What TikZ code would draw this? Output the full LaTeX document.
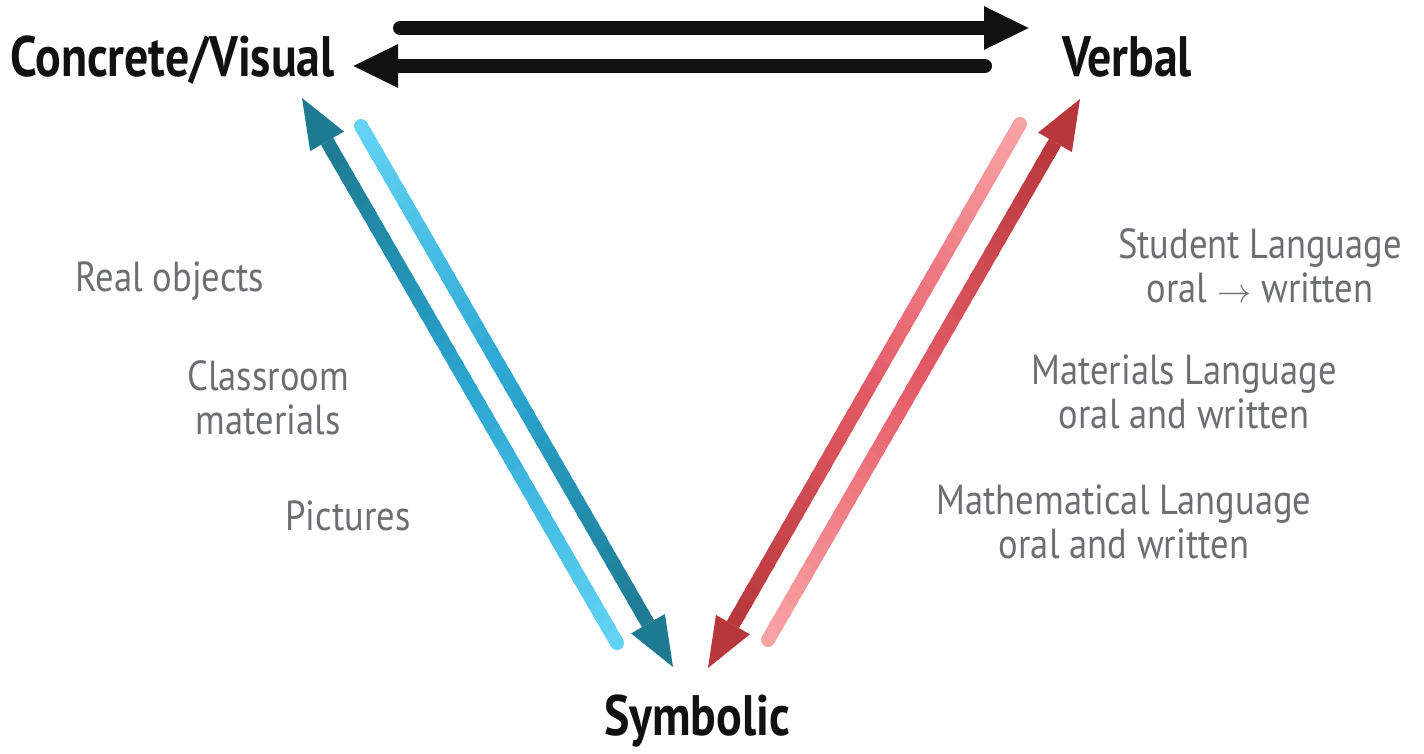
\documentclass[tikz,border=0pt]{standalone}
\usepackage{fontspec}
\setmainfont{PT Sans}
\newfontfamily\headfont{PT Sans}[FakeStretch=0.84]
\newfontfamily\lblfont{PT Sans}[FakeStretch=0.87]
\usetikzlibrary{calc,arrows.meta}
\definecolor{blueL}{HTML}{62D3F5}
\definecolor{blueM}{HTML}{2BA6D2}
\definecolor{blueD}{HTML}{1D7A90}
\definecolor{redL}{HTML}{F9A3A7}
\definecolor{redM}{HTML}{E55D68}
\definecolor{redD}{HTML}{B7373A}
\definecolor{txtgray}{HTML}{6D6E71}
\definecolor{ink}{HTML}{111111}
\tikzset{
  headlbl/.style={font=\headfont\bfseries\fontsize{57}{60}\selectfont, text=ink, inner sep=0pt},
  lbl/.style={font=\lblfont\fontsize{42}{44}\selectfont, text=txtgray, inner sep=0pt, align=center},
  blackarrow/.style={draw=ink, line width=14pt, line cap=round, -{Triangle[length=46pt,width=40pt]}},
}
\newcommand\thinarrow{\smash{\resizebox{34pt}{!}{$\rightarrow$}}}
% #1 tail, #2 head, #3 light, #4 mid, #5 dark
\newcommand\gradarrow[5]{%
  \coordinate (hb) at ($(#2)!50pt!(#1)$);
  \fill[#3] (#1) circle (7pt);
  \foreach \i in {0,...,39}{%
    \pgfmathsetmacro\ta{\i/40}%
    \pgfmathsetmacro\tb{min(1,(\i+1.4)/40)}%
    \pgfmathtruncatemacro\pp{\i<20 ? (\i+0.5)*5 : (\i-19.5)*5}%
    \ifnum\i<20 \colorlet{segc}{#4!\pp!#3}\else\colorlet{segc}{#5!\pp!#4}\fi
    \draw[segc, line width=14pt] ($(#1)!\ta!(hb)$) -- ($(#1)!\tb!(hb)$);
  }
  \fill[#5] (#2) -- ($(hb)!19.5pt!90:(#2)$) -- ($(hb)!19.5pt!-90:(#2)$) -- cycle;
}
\begin{document}
\begin{tikzpicture}[x=1pt,y=-1pt]
\useasboundingbox (0,0) rectangle (1424,753);
% main labels
\node[headlbl, anchor=base west] (cv) at (10,76) {Concrete/Visual};
\node[headlbl, anchor=base] (vb) at (1127,76) {Verbal};
\node[headlbl, anchor=base] (sy) at (697,735) {Symbolic};
% top arrows
\coordinate (t1) at (400,28);
\coordinate (h1) at (1030,28);
\coordinate (t2) at (985,66);
\coordinate (h2) at (352,66);
\draw[blackarrow] (t1) -- (h1);
\draw[blackarrow] (t2) -- (h2);
% left pair
\coordinate (bu-t) at (617,643);
\coordinate (bu-h) at (302,98);
\coordinate (bd-t) at (361,126);
\coordinate (bd-h) at (673,667);
\gradarrow{bu-t}{bu-h}{blueL}{blueM}{blueD}
\gradarrow{bd-t}{bd-h}{blueL}{blueM}{blueD}
% right pair
\coordinate (rd-t) at (1020,124);
\coordinate (rd-h) at (708,668);
\coordinate (ru-t) at (768,640);
\coordinate (ru-h) at (1080,99);
\gradarrow{rd-t}{rd-h}{redL}{redM}{redD}
\gradarrow{ru-t}{ru-h}{redL}{redM}{redD}
% side labels
\node[lbl, anchor=base] (ro) at (170,291) {Real objects};
\node[lbl] (cm) at (268,398) {Classroom\\materials};
\node[lbl, anchor=base] (pi) at (348,530) {Pictures};
\node[lbl] (sl) at (1260,266) {Student Language\\oral \thinarrow{} written};
\node[lbl] (ml) at (1184,392) {Materials Language\\oral and written};
\node[lbl] (mal) at (1124,522) {Mathematical Language\\oral and written};
\end{tikzpicture}
\end{document}
